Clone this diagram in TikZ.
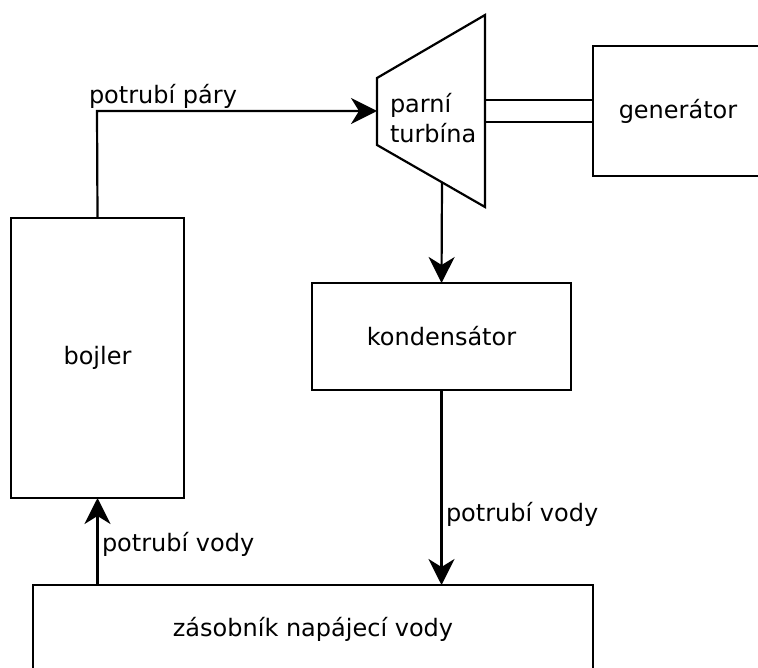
\documentclass[tikz,border=0pt]{standalone}
\usepackage{fontspec}
\setmainfont{DejaVu Sans}
\usetikzlibrary{arrows.meta}
\begin{document}
\begin{tikzpicture}[x=1pt,y=-1pt,
  every node/.style={font=\fontsize{24}{30}\selectfont, inner sep=0pt, outer sep=0pt},
  box/.style={draw, line width=2.2pt, rectangle},
  pipe/.style={line width=2.2pt},
  flow/.style={line width=2.2pt, -{Stealth[length=26pt,width=26pt,inset=8pt]}},
  lbl/.style={anchor=base west}
]
\useasboundingbox (0,0) rectangle (758,668);
\clip (0,0) rectangle (758,668);
% boxes
\node[box, minimum width=173pt, minimum height=280pt] (boiler) at (97.5,358) {bojler};
\node[box, minimum width=259pt, minimum height=107pt] (cond) at (441.5,336.5) {kondensátor};
\node[box, minimum width=170pt, minimum height=130pt] (gen) at (678,111) {generátor};
\node[box, minimum width=560pt, minimum height=100pt] (tank) at (313,635) {};
\node (tanktext) at (313,629) {zásobník napájecí vody};
% turbine
\draw[line width=2.2pt, line join=miter] (377,78) -- (485,15) -- (485,207) -- (377,145) -- cycle;
\node[align=left, anchor=west] (turb) at (390,118) {parní\\turbína};
\coordinate (tin) at (377,111);
\coordinate (tout) at (442,182.5);
\coordinate (sh1) at (485,100);
\coordinate (sh2) at (485,122);
% steam pipe
\coordinate (bend) at (97,111);
\draw[flow] (boiler.north) -- (bend) -- (tin);
\node[lbl] (lsteam) at (89,104) {potrubí páry};
% shaft
\draw[pipe] (sh1) -- (sh1 -| gen.west);
\draw[pipe] (sh2) -- (sh2 -| gen.west);
% turbine to condenser
\draw[flow] (tout) -- (cond.north);
% condenser to tank
\draw[flow] (cond.south) -- (cond.south |- tank.north);
\node[lbl] (lw1) at (446,521) {potrubí vody};
% tank to boiler
\draw[flow] (boiler.south |- tank.north) -- (boiler.south);
\node[lbl] (lw2) at (102,551) {potrubí vody};
\end{tikzpicture}
\end{document}
